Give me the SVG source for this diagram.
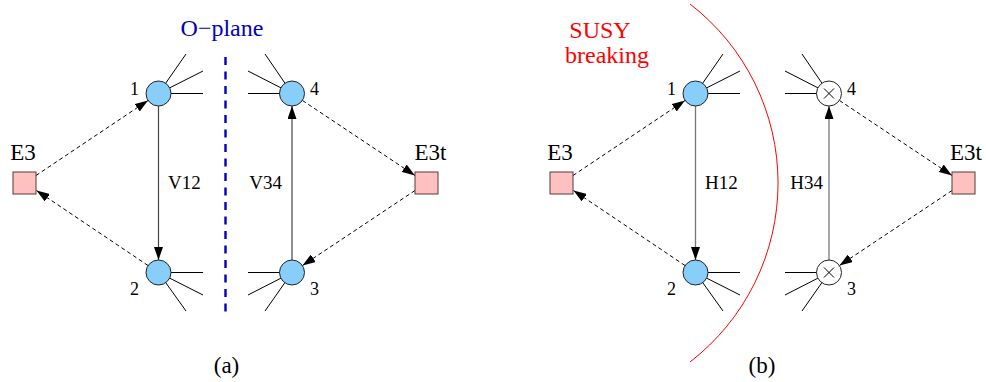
<svg xmlns="http://www.w3.org/2000/svg" width="986" height="382" viewBox="0 0 986 382" font-family="Liberation Serif, Times New Roman, Times, serif">
<defs>
<marker id="ah" markerUnits="userSpaceOnUse" markerWidth="13" markerHeight="9" refX="13" refY="4.5" orient="auto"><path d="M0,0 L13,4.5 L0,9 z" fill="#000"/></marker>
<style>
text{font-family:'Liberation Serif','Times New Roman',Times,serif;fill:#000}
.big{font-size:23px}
.num{font-size:18px}
.lab{font-size:19px}
.stub{stroke:#000;stroke-width:1;fill:none}
.node{fill:#87cefa;stroke:#222;stroke-width:1}
.wnode{fill:#fff;stroke:#222;stroke-width:1}
.sq{fill:#ffc0c0;stroke:#553a3a;stroke-width:1}
.dash{stroke:#000;stroke-width:1;stroke-dasharray:4,3;fill:none;marker-end:url(#ah)}
.vert{stroke:#444;stroke-width:1.2;fill:none;marker-end:url(#ah)}
.vertb{stroke:#777;stroke-width:1.3;fill:none;marker-end:url(#ah)}
</style>
</defs>
<rect width="986" height="382" fill="#fff"/>

<!-- panel a decorations -->
<text x="222" y="36" text-anchor="middle" font-family="Liberation Serif, serif" style="font-size:24px;fill:#0000c0">O−plane</text>
<line x1="225.5" y1="57" x2="225.5" y2="317" stroke="#0000c0" stroke-width="2.4" stroke-dasharray="8,6.5"/>
<text x="226.5" y="373" text-anchor="middle" class="big">(a)</text>

<!-- panel b decorations -->
<text x="600" y="38" text-anchor="middle" style="font-size:24px;fill:#ff0000">SUSY</text>
<text x="607" y="63" text-anchor="middle" style="font-size:24px;fill:#ff0000">breaking</text>
<path d="M690,4 A226,226 0 0 1 690,362" fill="none" stroke="#ff0000" stroke-width="1"/>
<text x="762" y="373" text-anchor="middle" class="big">(b)</text>

<g id="connectors">
<line class="dash" x1="36" y1="175.5" x2="148" y2="100.5"/>
<line class="dash" x1="148" y1="265.5" x2="36.5" y2="190.5"/>
<line class="dash" x1="302.5" y1="100.5" x2="415" y2="175.5"/>
<line class="dash" x1="415" y1="190.5" x2="302.5" y2="265.5"/>
<line class="vert" x1="158.5" y1="106" x2="158.5" y2="260"/>
<line class="vert" x1="292" y1="260" x2="292" y2="106"/>
<text x="168" y="189" class="lab">V12</text>
<text x="282" y="189" text-anchor="end" class="lab">V34</text>

<line class="dash" x1="573" y1="175.5" x2="685" y2="100.5"/>
<line class="dash" x1="685" y1="265.5" x2="573.5" y2="190.5"/>
<line class="dash" x1="839.5" y1="100.5" x2="952" y2="175.5"/>
<line class="dash" x1="952" y1="190.5" x2="839.5" y2="265.5"/>
<line class="vertb" x1="695.5" y1="106" x2="695.5" y2="260"/>
<line class="vertb" x1="829" y1="260" x2="829" y2="106"/>
<text x="705" y="189" class="lab">H12</text>
<text x="823" y="189" text-anchor="end" class="lab">H34</text>
</g>

<!-- panel a nodes -->
<g id="E3a">
<rect class="sq" x="13" y="172" width="23" height="22"/>
<text x="23" y="160" text-anchor="middle" class="big">E3</text>
</g>
<g id="E3ta">
<rect class="sq" x="415" y="172" width="23" height="22"/>
<text x="430.5" y="160" text-anchor="middle" class="big">E3t</text>
</g>
<g id="n1a">
<path class="stub" d="M158.5,93.5 L203,93.5 M158.5,93.5 L203,71 M158.5,93.5 L186,54"/>
<circle class="node" cx="158.5" cy="93.5" r="12.5"/>
<text x="139" y="94.5" text-anchor="end" class="num">1</text>
</g>
<g id="n2a">
<path class="stub" d="M158.5,272.5 L203,272.5 M158.5,272.5 L203,295 M158.5,272.5 L186,311"/>
<circle class="node" cx="158.5" cy="272.5" r="12.5"/>
<text x="139" y="295" text-anchor="end" class="num">2</text>
</g>
<g id="n3a">
<path class="stub" d="M292,272.5 L248,272.5 M292,272.5 L248,295 M292,272.5 L265,311"/>
<circle class="node" cx="292" cy="272.5" r="12.5"/>
<text x="310" y="295" class="num">3</text>
</g>
<g id="n4a">
<path class="stub" d="M292,93.5 L248,93.5 M292,93.5 L248,71 M292,93.5 L265,54"/>
<circle class="node" cx="292" cy="93.5" r="12.5"/>
<text x="310" y="94.5" class="num">4</text>
</g>

<!-- panel b nodes -->
<g id="E3b">
<rect class="sq" x="550" y="172" width="23" height="22"/>
<text x="560" y="160" text-anchor="middle" class="big">E3</text>
</g>
<g id="E3tb">
<rect class="sq" x="952" y="172" width="23" height="22"/>
<text x="966" y="160" text-anchor="middle" class="big">E3t</text>
</g>
<g id="n1b">
<path class="stub" d="M695.5,93.5 L740,93.5 M695.5,93.5 L740,71 M695.5,93.5 L723,54"/>
<circle class="node" cx="695.5" cy="93.5" r="12.5"/>
<text x="676" y="94.5" text-anchor="end" class="num">1</text>
</g>
<g id="n2b">
<path class="stub" d="M695.5,272.5 L740,272.5 M695.5,272.5 L740,295 M695.5,272.5 L723,311"/>
<circle class="node" cx="695.5" cy="272.5" r="12.5"/>
<text x="676" y="295" text-anchor="end" class="num">2</text>
</g>
<g id="n3b">
<path class="stub" d="M829,272.5 L785,272.5 M829,272.5 L785,295 M829,272.5 L802,311"/>
<circle class="wnode" cx="829" cy="272.5" r="12.5"/>
<path class="stub" d="M824,267.5 L834,277.5 M834,267.5 L824,277.5"/>
<text x="847" y="295" class="num">3</text>
</g>
<g id="n4b">
<path class="stub" d="M829,93.5 L785,93.5 M829,93.5 L785,71 M829,93.5 L802,54"/>
<circle class="wnode" cx="829" cy="93.5" r="12.5"/>
<path class="stub" d="M824,88.5 L834,98.5 M834,88.5 L824,98.5"/>
<text x="847" y="94.5" class="num">4</text>
</g>
</svg>
